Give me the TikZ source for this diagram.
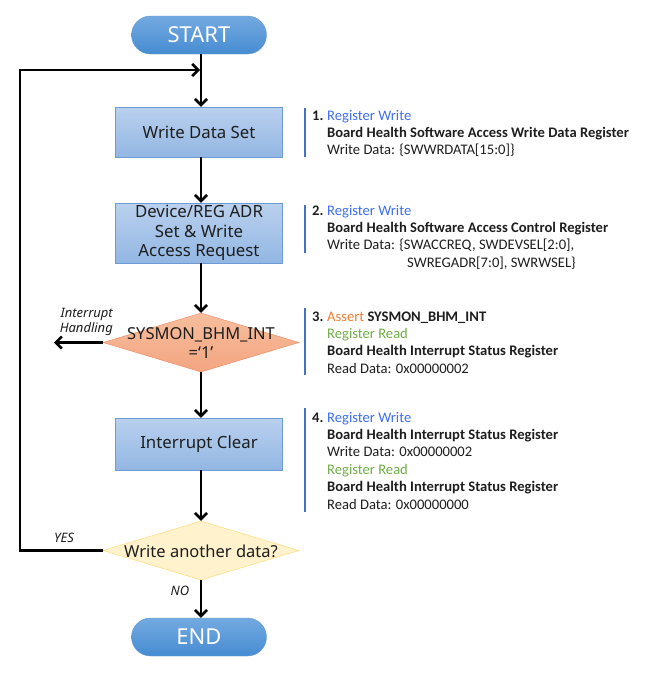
\documentclass[tikz,border=0pt]{standalone}
\usepackage{fontspec}
\setmainfont{Carlito}
\newfontfamily\boxfont{Noto Sans}
\usetikzlibrary{shapes.geometric,arrows.meta}
\definecolor{stTop}{RGB}{115,170,224}
\definecolor{stBot}{RGB}{70,140,210}
\definecolor{stBorder}{RGB}{100,155,215}
\definecolor{bxTop}{RGB}{186,208,238}
\definecolor{bxBot}{RGB}{146,183,227}
\definecolor{bxBorder}{RGB}{110,155,212}
\definecolor{d1Top}{RGB}{247,190,158}
\definecolor{d1Bot}{RGB}{243,165,128}
\definecolor{d1Border}{RGB}{240,135,95}
\definecolor{d2Fill}{RGB}{255,242,204}
\definecolor{d2Border}{RGB}{255,217,102}
\definecolor{rwblue}{RGB}{60,110,240}
\definecolor{asorange}{RGB}{237,125,49}
\definecolor{rdgreen}{RGB}{112,173,71}
\definecolor{barblue}{RGB}{68,114,196}
\definecolor{txt}{RGB}{30,30,30}
\begin{document}
\begin{tikzpicture}[x=1pt,y=-1pt,
  term/.style={rectangle, rounded corners=19pt, minimum width=135pt, minimum height=38pt,
    top color=stTop, bottom color=stBot, draw=stBorder, text=white, inner sep=0pt,
    font=\boxfont\fontsize{22}{26}\selectfont},
  proc/.style={rectangle, minimum width=167pt, inner sep=0pt, align=center,
    top color=bxTop, bottom color=bxBot, draw=bxBorder, text=txt,
    font=\boxfont\fontsize{16.8}{19.5}\selectfont},
  dia/.style={diamond, minimum width=196pt, minimum height=59pt, inner sep=0pt, aspect=3.3},
  dtext/.style={text=txt, align=center, inner sep=0pt, font=\boxfont\fontsize{16.5}{19}\selectfont},
  flow/.style={line width=2.6pt, -{Straight Barb[length=6pt,width=12pt]}},
  lab/.style={font=\boxfont\itshape\fontsize{13}{15.5}\selectfont, text=txt, inner sep=0pt},
  ln/.style={anchor=base west, inner sep=0pt, font=\fontsize{14.6}{17}\selectfont, text=txt},
  bar/.style={line width=2.6pt, draw=barblue}
]
\useasboundingbox (0,0) rectangle (660,680);

% flow nodes
\node[term] (start) at (199,35) {START};
\node[proc, minimum height=50pt] (ws) at (199,132) {Write Data Set};
\node[proc, minimum height=60pt] (dev) at (199,233) {Device/REG ADR\\Set \& Write\\Access Request};
\node[dia, top color=d1Top, bottom color=d1Bot, draw=d1Border] (d1) at (201,342.5) {};
\node[dtext] (d1t) at (201,343) {SYSMON\_BHM\_INT\\=‘1’};
\node[proc, minimum height=52pt] (ic) at (199,444) {Interrupt Clear};
\node[dia, fill=d2Fill, draw=d2Border] (d2) at (201,550.5) {};
\node[dtext] (d2t) at (201,551) {Write another data?};
\node[term] (end) at (199,637) {END};

% connectors
\coordinate (loopin) at (201,70);
\coordinate (lc1) at (20,550.5);
\coordinate (lc2) at (20,70);
\coordinate (intr) at (54,342.5);
\draw[flow] (start.south -| loopin) -- (ws.north -| loopin);
\draw[flow] (ws.south -| loopin) -- (dev.north -| loopin);
\draw[flow] (dev.south -| loopin) -- (d1.north);
\draw[flow] (d1.south) -- (ic.north -| loopin);
\draw[flow] (ic.south -| loopin) -- (d2.north);
\draw[flow] (d2.south) -- (end.north -| loopin);
\draw[flow] (d2.west) -- (lc1) -- (lc2) -- ([xshift=-1pt]loopin);
\draw[flow] (d1.west) -- (intr);

% labels
\node[lab, anchor=east, align=right] (ih) at (113,322) {Interrupt\\Handling};
\node[lab] (yes) at (64,538) {YES};
\node[lab] (no) at (180,591) {NO};

% notes: bars
\draw[bar] (305,108) -- (305,157);
\draw[bar] (305,205) -- (305,253);
\draw[bar] (305,308) -- (305,375);
\draw[bar] (305,408) -- (305,512);

% note 1
\node[ln] (k1) at (312,120) {\textbf{1.}};
\node[ln] (a1) at (327,120) {\textcolor{rwblue}{Register Write}};
\node[ln] (b1) at (327,137.4) {\textbf{Board Health Software Access Write Data Register}};
\node[ln] (c1) at (327,154.8) {Write Data: \{SWWRDATA[15:0]\}};
% note 2
\node[ln] (k2) at (312,215) {\textbf{2.}};
\node[ln] (a2) at (327,215) {\textcolor{rwblue}{Register Write}};
\node[ln] (b2) at (327,232.4) {\textbf{Board Health Software Access Control Register}};
\node[ln] (c2) at (327,249.8) {Write Data: \{SWACCREQ, SWDEVSEL[2:0],};
\node[ln] (e2) at (407,267.2) {SWREGADR[7:0], SWRWSEL\}};
% note 3
\node[ln] (k3) at (312,321) {\textbf{3.}};
\node[ln] (a3) at (327,321) {\textcolor{asorange}{Assert} \textbf{SYSMON\_BHM\_INT}};
\node[ln] (b3) at (327,338.4) {\textcolor{rdgreen}{Register Read}};
\node[ln] (c3) at (327,355.8) {\textbf{Board Health Interrupt Status Register}};
\node[ln] (e3) at (327,373.2) {Read Data: 0x00000002};
% note 4
\node[ln] (k4) at (312,422) {\textbf{4.}};
\node[ln] (a4) at (327,422) {\textcolor{rwblue}{Register Write}};
\node[ln] (b4) at (327,439.4) {\textbf{Board Health Interrupt Status Register}};
\node[ln] (c4) at (327,456.8) {Write Data: 0x00000002};
\node[ln] (e4) at (327,474.2) {\textcolor{rdgreen}{Register Read}};
\node[ln] (f4) at (327,491.6) {\textbf{Board Health Interrupt Status Register}};
\node[ln] (g4) at (327,509) {Read Data: 0x00000000};
\end{tikzpicture}
\end{document}
